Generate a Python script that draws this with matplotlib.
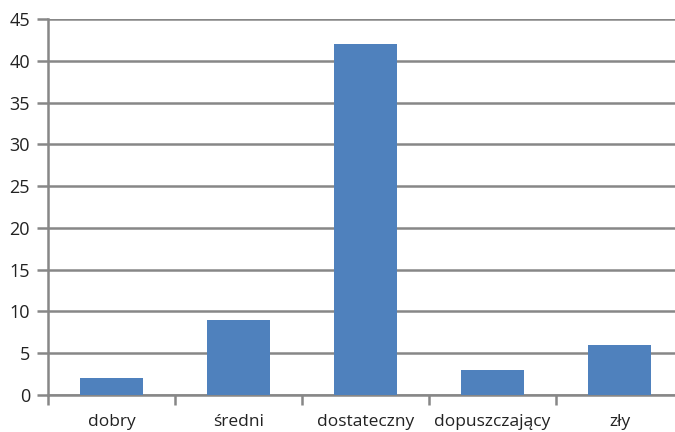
import matplotlib.pyplot as plt

# Grades and number of answers per grade
grades = ['dobry', 'średni', 'dostateczny', 'dopuszczający', 'zły']
counts = [2, 9, 42, 3, 6]
y_ticks = [0, 5, 10, 15, 20, 25, 30, 35, 40, 45]

plt.rcParams['font.family'] = ['Open Sans', 'DejaVu Sans']

fig = plt.figure(figsize=(6.75, 4.32), dpi=100)
# plot area: left axis at x=48px, zero line at y=395px, top at 19px
ax = fig.add_axes([48 / 675, (432 - 395) / 432, 1 - 48 / 675, (395 - 19) / 432])

x = list(range(len(grades)))
ax.bar(x, counts, width=0.5, color='#4f81bd', zorder=3)

ax.set_ylim(0, 45)
ax.set_xlim(-0.5, -0.5 + (675 - 48) / 127)
ax.set_yticks(y_ticks)
ax.grid(axis='y', color='#878787', linewidth=1.8, zorder=0)
ax.set_axisbelow(True)

for side in ['top', 'right']:
    ax.spines[side].set_visible(False)
for side in ['left', 'bottom']:
    ax.spines[side].set_color('#878787')
    ax.spines[side].set_linewidth(1.8)

# category labels in the middle, tick marks on the boundaries
ax.set_xticks(x)
ax.set_xticklabels(grades)
ax.tick_params(axis='x', length=0, pad=14, labelsize=12.5, colors='#222222')
ax.set_xticks([i + 0.5 for i in range(len(grades) - 1)] + [-0.5], minor=True)
ax.tick_params(axis='x', which='minor', length=7, width=1.8, color='#878787')
ax.tick_params(axis='y', length=8, width=1.8, color='#878787', labelsize=13,
               labelcolor='#222222', pad=5)

fig.savefig('out.png', dpi=100)
